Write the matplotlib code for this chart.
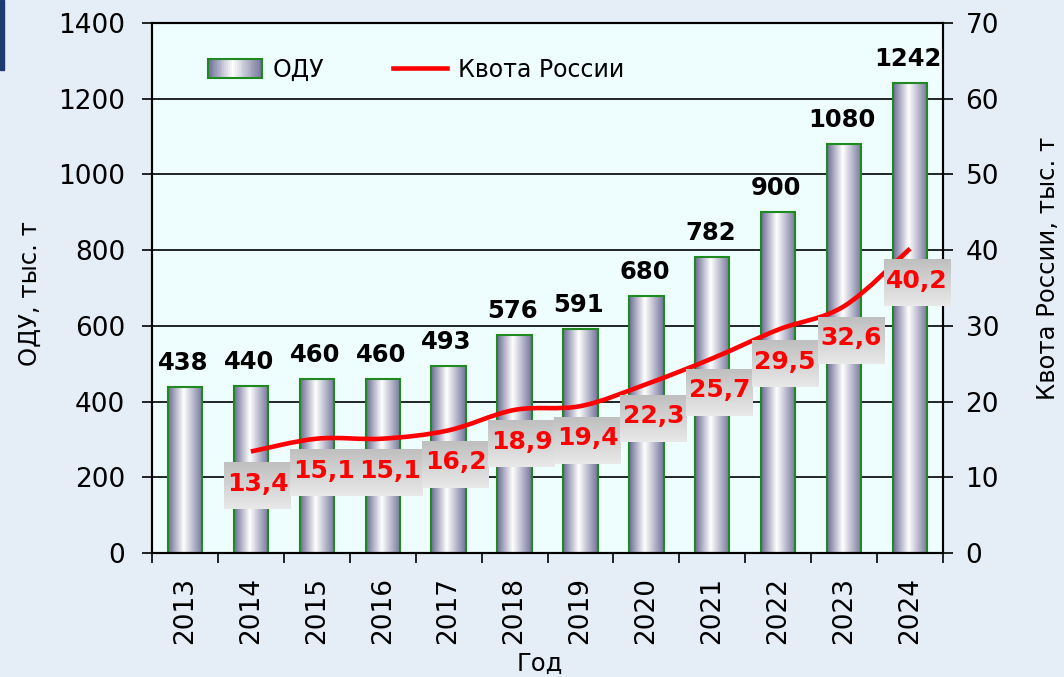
import numpy as np
import matplotlib
matplotlib.use('Agg')
import matplotlib.pyplot as plt
from matplotlib.colors import LinearSegmentedColormap
from matplotlib.patches import Rectangle, PathPatch
from matplotlib.path import Path
from matplotlib.lines import Line2D
from matplotlib.legend_handler import HandlerBase
from matplotlib.offsetbox import OffsetImage, AnnotationBbox

# данные
years = ['2013', '2014', '2015', '2016', '2017', '2018',
         '2019', '2020', '2021', '2022', '2023', '2024']
odu = [438, 440, 460, 460, 493, 576, 591, 680, 782, 900, 1080, 1242]
quota_years = ['2014', '2015', '2016', '2017', '2018',
               '2019', '2020', '2021', '2022', '2023', '2024']
quota = [13.4, 15.1, 15.1, 16.2, 18.9, 19.4, 22.3, 25.7, 29.5, 32.6, 40.2]

bar_cmap = LinearSegmentedColormap.from_list(
    'odu', [(0.0, '#6a6a93'), (0.45, '#ffffff'), (1.0, '#72729a')])
GREEN = '#1f8a1f'
RED = '#ff0000'


class GradHandler(HandlerBase):
    # градиентный прямоугольник в легенде
    def create_artists(self, legend, orig, xd, yd, w, h, fs, trans):
        arts = []
        n = 30
        for k in range(n):
            arts.append(Rectangle((-xd + w * k / n, -yd), w / n + 0.3, h,
                                  facecolor=bar_cmap((k + 0.5) / n),
                                  edgecolor='none', transform=trans))
        arts.append(Rectangle((-xd, -yd), w, h, fill=False, edgecolor=GREEN,
                              linewidth=1.5, transform=trans))
        return arts


fig = plt.figure(figsize=(10.64, 6.77), dpi=100, facecolor='#e5eef6')
fig.patches.append(Rectangle((0, 1 - 70 / 677), 4 / 1064, 70 / 677,
                             transform=fig.transFigure, color='#1d3b6e'))

ax = fig.add_axes([152 / 1064, 124 / 677, 791 / 1064, 530 / 677])
ax.set_facecolor('#eefefe')
x = np.arange(len(years))

bars = ax.bar(x, odu, width=0.52, facecolor='none', edgecolor=GREEN,
              linewidth=1.5, zorder=3)
grad = np.linspace(0, 1, 256).reshape(1, -1)
for b in bars:
    ax.imshow(grad, cmap=bar_cmap, aspect='auto', interpolation='bilinear',
              extent=[b.get_x(), b.get_x() + b.get_width(), 0, b.get_height()],
              zorder=2)
    ax.annotate(str(int(b.get_height())),
                (b.get_x() + b.get_width() / 2, b.get_height()),
                xytext=(-2, 17), textcoords='offset pixels', ha='center',
                va='baseline', fontsize=17.5, fontweight='bold', color='black')

ax.set_xlim(-0.5, len(years) - 0.5)
ax.set_ylim(0, 1400)
ax.set_yticks(range(0, 1401, 200))
ax.set_xticks(np.arange(-0.5, len(years), 1))
ax.set_xticklabels([])
ax.set_xticks(x, minor=True)
ax.set_xticklabels(years, minor=True, rotation=90)
ax.tick_params(axis='x', which='major', length=7.2, width=1.2)
ax.tick_params(axis='x', which='minor', length=0, pad=17, labelsize=19)
ax.tick_params(axis='y', length=7.2, width=1.2, pad=12, labelsize=19)
ax.grid(axis='y', color='black', linewidth=1.2)
ax.set_axisbelow(True)
for s in ax.spines.values():
    s.set_linewidth(1.5)

ax2 = ax.twinx()
ax2.set_ylim(0, 70)
ax2.set_yticks(range(0, 71, 10))
ax2.tick_params(axis='y', length=7.2, width=1.2, pad=9, labelsize=19)
for s in ax2.spines.values():
    s.set_linewidth(1.5)

# сглаженная линия квоты (кривые Безье, как в Excel)
qx = np.array([years.index(y) for y in quota_years], dtype=float)
qy = np.array(quota)
pts = np.column_stack([qx, qy])
ext = np.vstack([pts[0], pts, pts[-1]])
verts = [tuple(pts[0])]
codes = [Path.MOVETO]
for i in range(len(pts) - 1):
    p0, p1, p2, p3 = ext[i], ext[i + 1], ext[i + 2], ext[i + 3]
    c1 = p1 + (p2 - p0) / 6
    c2 = p2 - (p3 - p1) / 6
    verts += [tuple(c1), tuple(c2), tuple(p2)]
    codes += [Path.CURVE4] * 3
ax2.add_patch(PathPatch(Path(verts, codes), fill=False, edgecolor=RED,
                        linewidth=3.3, capstyle='butt', zorder=4))

# подписи значений квоты в серых градиентных плашках
box_h, box_w = 47, 67
shade = np.linspace(0.75, 0.91, box_h)
box_img = np.repeat(np.repeat(shade[:, None, None], box_w, axis=1), 3, axis=2)
for xi, v in zip(qx, quota):
    ab = AnnotationBbox(OffsetImage(box_img, zoom=0.72), (xi, v),
                        xybox=(7, -34), boxcoords='offset pixels',
                        frameon=False, pad=0, zorder=5)
    ax2.add_artist(ab)
    ax2.annotate(f'{v:.1f}'.replace('.', ','), (xi, v), xytext=(7, -32),
                 textcoords='offset pixels', ha='center', va='center',
                 fontsize=18, fontweight='bold', color=RED, zorder=6)

handles = [Rectangle((0, 0), 1, 1), Line2D([], [], color=RED, linewidth=3.3)]
ax2.legend(handles, ['ОДУ', 'Квота России'], ncol=2, frameon=False,
           loc='center left', bbox_to_anchor=(56 / 791, 483 / 530),
           borderpad=0, borderaxespad=0, fontsize=17, handlelength=2.3,
           handleheight=0.85, handletextpad=0.45, columnspacing=2.9,
           handler_map={Rectangle: GradHandler()})

fig.text(30 / 1064, 1 - 294 / 677, 'ОДУ, тыс. т', rotation=90,
         ha='center', va='center', fontsize=17.5)
fig.text(1048 / 1064, 1 - 268 / 677, 'Квота России, тыс. т', rotation=90,
         ha='center', va='center', fontsize=17.5)
fig.text(540 / 1064, 1 - 664 / 677, 'Год', ha='center', va='center',
         fontsize=17.5)

plt.savefig('out.png', dpi=100, facecolor=fig.get_facecolor())
